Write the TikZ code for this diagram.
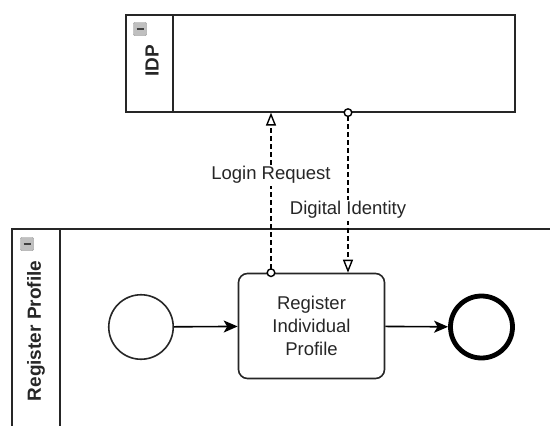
\documentclass[tikz,border=0pt]{standalone}
\usepackage{fontspec}
\setmainfont{Liberation Sans}
\usetikzlibrary{arrows.meta,positioning}

\begin{document}
\begin{tikzpicture}[x=1pt,y=-1pt,
    every node/.style={text=black!85,font=\fontsize{18.5}{23}\selectfont},
    pool/.style={draw=black!85,line width=1.6pt},
    pooltitle/.style={rotate=90,font=\fontsize{19}{22}\selectfont\bfseries},
    collapse/.style={draw=black!45,fill=black!25,rounded corners=1pt,minimum size=13pt,inner sep=0pt,
      path picture={\draw[line width=2pt,black!75] ([xshift=-3.5pt]path picture bounding box.center) -- ([xshift=3.5pt]path picture bounding box.center);}},
    startevent/.style={circle,draw=black!85,line width=1.6pt,minimum size=64.5pt,inner sep=0pt},
    endevent/.style={circle,draw=black,line width=4.8pt,minimum size=62pt,inner sep=0pt},
    task/.style={draw=black!85,line width=1.6pt,rounded corners=9pt,minimum width=146pt,minimum height=105pt,align=center},
    seqflow/.style={line width=1.6pt,-{Stealth[length=14pt,width=12pt,inset=3.5pt]}},
    msgflow/.style={line width=1.5pt,dash pattern=on 5pt off 3pt,
      {Circle[fill=white,length=9pt,line width=1.4pt,sep=0pt]}-{Triangle[fill=white,length=13pt,width=10pt,line width=1.4pt]}},
    msglabel/.style={fill=white,inner sep=2pt,pos=.62}]
    %\draw[step=50,lightgray,ultra thin] (0,0) grid (550,426);
    \useasboundingbox (0,0) rectangle (550,426);

    \node[pool,minimum width=389pt,minimum height=97pt,inner sep=0pt,anchor=north west] (idp) at (125,14) {};
    \draw[pool] (173,14) -- (173,111);
    \node[collapse] (idpicon) at (140,29) {};
    \node[pooltitle] (idptitle) at (152,61) {IDP};

    \draw[pool] (550,229) -- (12,229) -- (12,430);
    \draw[pool] (60,229) -- (60,430);
    \node[collapse] (regicon) at (27,244) {};
    \node[pooltitle] (regtitle) at (36,331) {Register Profile};

    \node[startevent] (start) at (141,327) {};
    \node[task] (task) at (311.5,326) {Register\\Individual\\Profile};
    \node[endevent] (end) at (481.5,327) {};

    \draw[seqflow] (start) -- (task);
    \draw[seqflow] (task) -- (end);

    \coordinate (loginx) at (271,0);
    \coordinate (identx) at (348,0);
    \draw[msgflow] ([yshift=-4.5pt]task.north -| loginx) -- (idp.south -| loginx)
      node[msglabel] (loginlabel) {Login Request};
    \draw[msgflow] ([yshift=4.5pt]idp.south -| identx) -- (task.north -| identx)
      node[msglabel] (identlabel) {Digital Identity};
\end{tikzpicture}
\end{document}
